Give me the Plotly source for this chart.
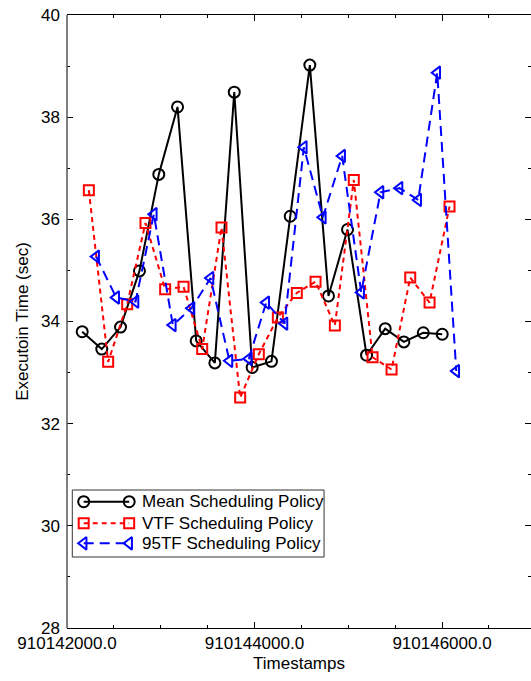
import plotly.graph_objects as go

# ---- data ----
mean_t = [910142162, 910142371, 910142571, 910142773, 910142979, 910143179, 910143378,
          910143577, 910143784, 910143975, 910144181, 910144381, 910144590, 910144789,
          910144992, 910145195, 910145394, 910145593, 910145800, 910146002]
mean_v = [33.80, 33.46, 33.89, 34.99, 36.88, 38.20, 33.62, 33.19, 38.49, 33.10,
          33.22, 36.06, 39.02, 34.50, 35.80, 33.34, 33.86, 33.60, 33.78, 33.75]

vtf_t = [910142233, 910142439, 910142642, 910142837, 910143047, 910143243, 910143442,
         910143648, 910143847, 910144046, 910144249, 910144451, 910144651, 910144857,
         910145059, 910145259, 910145462, 910145661, 910145867, 910146080]
vtf_v = [36.57, 33.21, 34.34, 35.93, 34.63, 34.68, 33.46, 35.84, 32.51, 33.36,
         34.08, 34.56, 34.78, 33.92, 36.77, 33.30, 33.06, 34.86, 34.37, 36.25]

tf95_t = [910142311, 910142525, 910142731, 910142926, 910143129, 910143328, 910143531,
          910143733, 910143939, 910144125, 910144320, 910144526, 910144729, 910144935,
          910145138, 910145344, 910145547, 910145746, 910145949, 910146152]
tf95_v = [35.27, 34.47, 34.39, 36.10, 33.93, 34.26, 34.85, 33.23, 33.27, 34.37,
          33.96, 37.41, 36.04, 37.24, 34.57, 36.53, 36.61, 36.38, 38.87, 33.03]

series_names = ["Mean Scheduling Policy", "VTF Scheduling Policy", "95TF Scheduling Policy"]
x_range = [910142000, 910146949]
y_range = [28, 40]

FONT = "Liberation Sans, Arial, sans-serif"
FS = 17

styles = [
    dict(color="black", dash="solid", symbol="circle-open", size=11),
    dict(color="#ff0000", dash="5px,4px", symbol="square-open", size=10),
    dict(color="#0000ff", dash="10px,6px", symbol="triangle-left-open", size=11),
]

fig = go.Figure()
for (t, v), name, st in zip([(mean_t, mean_v), (vtf_t, vtf_v), (tf95_t, tf95_v)], series_names, styles):
    fig.add_trace(go.Scatter(
        x=t, y=v, mode="lines+markers", name=name, showlegend=False,
        line=dict(color=st["color"], width=2, dash=st["dash"]),
        marker=dict(symbol=st["symbol"], size=st["size"], color=st["color"],
                    line=dict(color=st["color"], width=2)),
    ))

# ---- custom legend (box, samples with markers at both ends, labels) ----
leg_rows = [0.2060, 0.1708, 0.1382]
for name, st, yr in zip(series_names, styles, leg_rows):
    fig.add_trace(go.Scatter(
        x=[0.036, 0.134], y=[yr, yr], xaxis="x2", yaxis="y2", mode="lines+markers",
        showlegend=False, hoverinfo="skip",
        line=dict(color=st["color"], width=2, dash=st["dash"]),
        marker=dict(symbol=st["symbol"], size=st["size"], color=st["color"],
                    line=dict(color=st["color"], width=2)),
    ))
    fig.add_annotation(x=0.157, y=yr, xref="paper", yref="paper", text=name,
                       showarrow=False, xanchor="left", yanchor="middle",
                       font=dict(family=FONT, size=FS, color="black"))

fig.add_shape(type="rect", xref="paper", yref="paper", x0=0.0114, x1=0.554, y0=0.1158, y1=0.2251,
              line=dict(color="#333", width=1))
# left axis line
fig.add_shape(type="line", xref="paper", yref="paper", x0=0, x1=0, y0=0, y1=1,
              line=dict(color="#555", width=1.5))

fig.update_layout(
    width=531, height=681, autosize=False,
    margin=dict(l=67, r=0, t=15, b=53, pad=0),
    paper_bgcolor="white", plot_bgcolor="white",
    font=dict(family=FONT, size=FS, color="black"),
    xaxis=dict(range=x_range, tickmode="linear", tick0=910142000, dtick=2000, tickformat=".1f",
               ticks="inside", ticklen=6, tickcolor="black", tickwidth=1,
               showline=True, linecolor="black", linewidth=1, mirror="ticks",
               showgrid=False, zeroline=False,
               minor=dict(tick0=910142000, dtick=500, ticks="inside", ticklen=3,
                          tickcolor="black", showgrid=False),
               tickfont=dict(family=FONT, size=FS),
               title=dict(text="Timestamps", font=dict(family=FONT, size=FS), standoff=4)),
    yaxis=dict(range=y_range, tickmode="linear", tick0=28, dtick=2,
               ticks="inside", ticklen=6, tickcolor="black", tickwidth=1,
               showline=False, mirror="ticks", showgrid=False, zeroline=False,
               minor=dict(tick0=28, dtick=1, ticks="inside", ticklen=3,
                          tickcolor="black", showgrid=False),
               tickfont=dict(family=FONT, size=FS), ticklabelstandoff=6,
               title=dict(text="Executoin Time (sec)", font=dict(family=FONT, size=FS), standoff=8)),
    xaxis2=dict(range=[0, 1], overlaying="x", anchor="y2", visible=False, fixedrange=True),
    yaxis2=dict(range=[0, 1], overlaying="y", anchor="x2", visible=False, fixedrange=True),
    showlegend=False,
)

fig.write_html("out.html")
